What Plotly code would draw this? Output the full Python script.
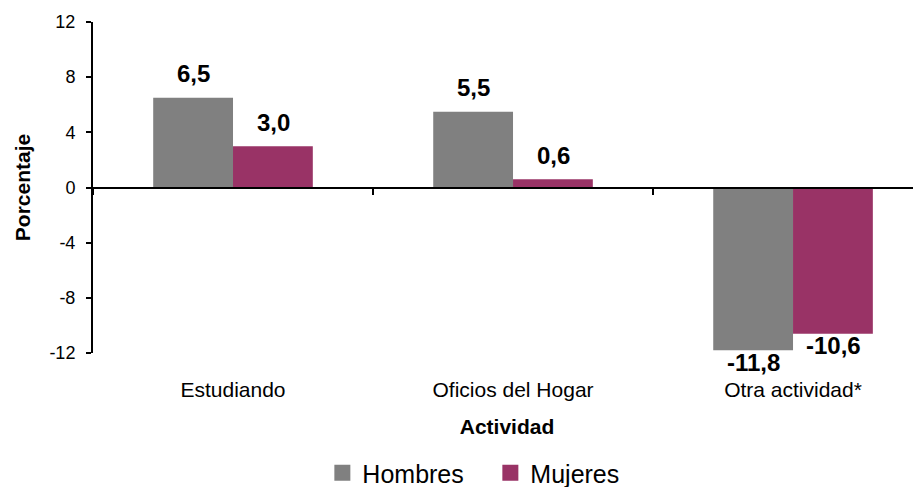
import plotly.graph_objects as go

# Datos
actividades = ['Estudiando', 'Oficios del Hogar', 'Otra actividad*']
hombres = [6.5, 5.5, -11.8]
mujeres = [3.0, 0.6, -10.6]
y_ticks = [-12, -8, -4, 0, 4, 8, 12]

GRIS = '#808080'
MAGENTA = '#993366'
FONT = 'Liberation Sans, Arial, sans-serif'

fig = go.Figure()

series = [('Hombres', hombres, GRIS, -40), ('Mujeres', mujeres, MAGENTA, 40)]

for nombre, valores, color, dx in series:
    fig.add_trace(go.Bar(
        x=actividades, y=valores, name=nombre, showlegend=False,
        marker=dict(color=color, line=dict(width=0)),
    ))
    # entrada de leyenda con cuadro más grande
    fig.add_trace(go.Scatter(
        x=[None], y=[None], name=nombre, mode='markers',
        marker=dict(symbol='square', size=16, color=color),
    ))
    # etiquetas de valor
    for cat, v in zip(actividades, valores):
        fig.add_annotation(
            x=cat, y=v, xref='x', yref='y', text=f'<b>{v:.1f}</b>'.replace('.', ','),
            showarrow=False, xshift=dx, yshift=24 if v > 0 else -12,
            font=dict(size=24, color='black', family=FONT),
        )

# eje auxiliar para la línea del cero con sus marcas
fig.add_trace(go.Scatter(x=actividades, y=[0, 0, 0], xaxis='x2', mode='none',
                         showlegend=False, hoverinfo='skip'))

fig.update_layout(
    width=913, height=479,
    margin=dict(l=85, r=0, t=14, b=134),
    plot_bgcolor='white', paper_bgcolor='white',
    separators=',.',
    barmode='group', bargap=0.43, bargroupgap=0,
    font=dict(family=FONT, color='black'),
    xaxis=dict(
        range=[-0.5, 2.457], showline=False, ticks='', showgrid=False,
        tickfont=dict(size=21), ticklabelstandoff=22,
        title=dict(text='<b>Actividad</b>', font=dict(size=21), standoff=19),
    ),
    xaxis2=dict(
        overlaying='x', anchor='free', position=0.5, side='bottom',
        range=[-0.5, 2.457], showline=True, linecolor='black', linewidth=2,
        ticks='outside', ticklen=6, tickcolor='black', tickwidth=2, tickson='boundaries',
        showticklabels=False, showgrid=False,
    ),
    yaxis=dict(
        range=[-12, 12], tickvals=y_ticks, ticktext=[str(v) for v in y_ticks],
        showgrid=False, zeroline=False,
        showline=True, linecolor='black', linewidth=2,
        ticks='outside', ticklen=5, tickcolor='black', tickwidth=2,
        tickfont=dict(size=18), ticklabelstandoff=7,
        title=dict(text='<b>Porcentaje</b>', font=dict(size=21), standoff=13),
    ),
    legend=dict(
        orientation='h', x=0.277, xanchor='left',
        yref='container', y=0.0292, yanchor='middle',
        font=dict(size=25), entrywidth=123, entrywidthmode='pixels',
    ),
)

fig.write_html('out.html')
